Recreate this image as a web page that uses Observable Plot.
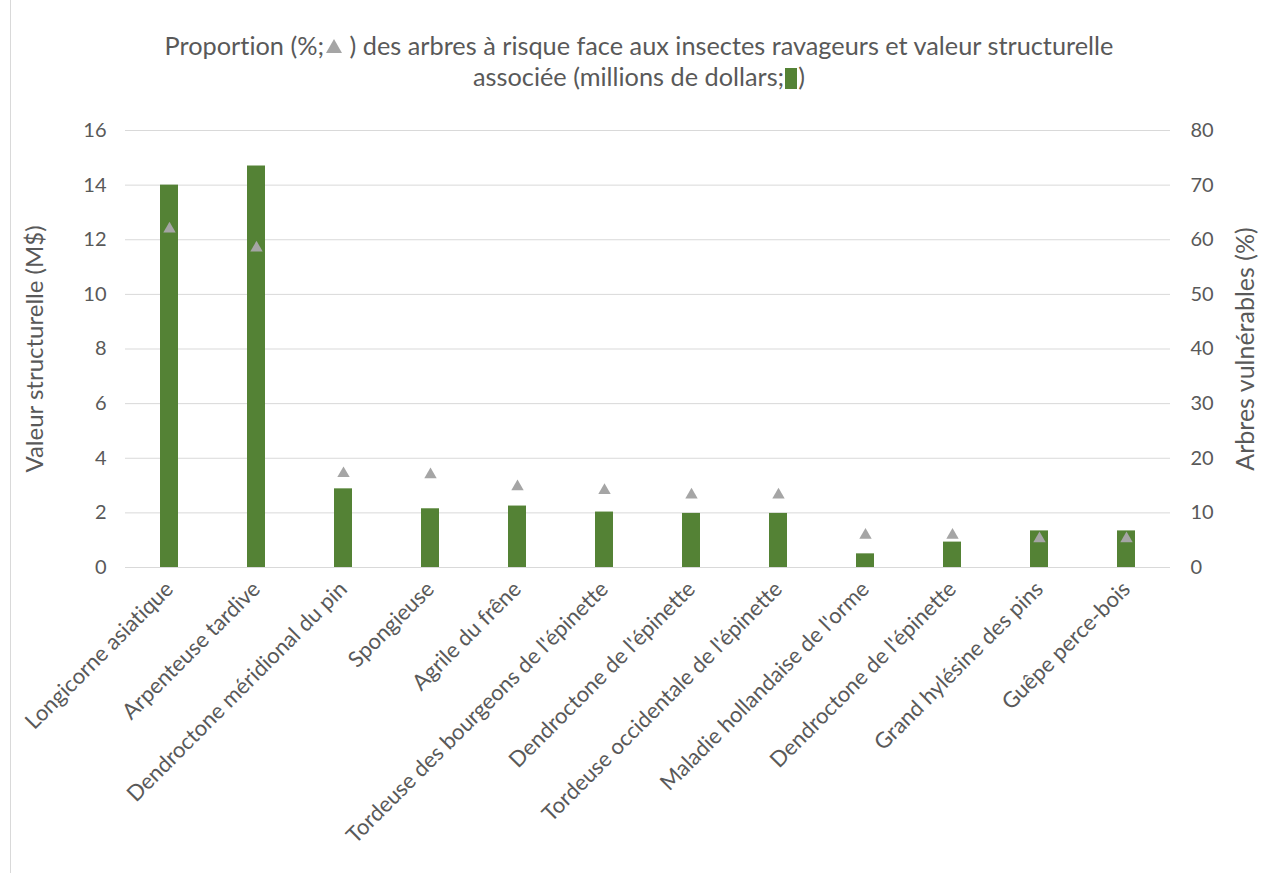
<!DOCTYPE html>
<html><head><meta charset="utf-8">
<script src="https://cdn.jsdelivr.net/npm/d3@7"></script>
<script src="https://cdn.jsdelivr.net/npm/@observablehq/plot@0.6"></script>
<style>
body{margin:0;background:#fff;font-family:Lato,"Open Sans",sans-serif;font-variant-ligatures:none;}
#frame{position:absolute;left:10px;top:-2px;width:1300px;height:900px;border:1px solid #d9d9d9;}
#title{position:absolute;left:0;top:30px;width:1278px;text-align:center;color:#595959;font-size:25.3px;line-height:31px;}
#title .tri{display:inline-block;width:0;height:0;border-left:8px solid transparent;border-right:8px solid transparent;border-bottom:14px solid #a5a5a5;vertical-align:2px;margin:0 1px 0 2px;}
#title .sq{display:inline-block;width:12px;height:21px;background:#548235;vertical-align:-3px;margin:0 1px;}
#chart{position:absolute;left:0;top:100px;}
svg text{font-variant-ligatures:none;}
</style></head><body>
<div id="frame"></div>
<div id="title">Proportion (%;<span class="tri"></span> ) des arbres à risque face aux insectes ravageurs et valeur structurelle<br>associée (millions de dollars;<span class="sq"></span>)</div>
<div id="chart"></div>
<script>
const categories = ["Longicorne asiatique","Arpenteuse tardive","Dendroctone méridional du pin","Spongieuse","Agrile du frêne","Tordeuse des bourgeons de l'épinette","Dendroctone de l'épinette","Tordeuse occidentale de l'épinette","Maladie hollandaise de l'orme","Dendroctone de l'épinette","Grand hylésine des pins","Guêpe perce-bois"];
const valeurs = [14.0, 14.7, 2.88, 2.15, 2.25, 2.03, 1.98, 1.98, 0.5, 0.93, 1.34, 1.34];
const proportions = [62, 58.5, 17.2, 17.0, 14.8, 14.1, 13.3, 13.3, 5.9, 5.9, 5.3, 5.3];
const leftTicks = [0,2,4,6,8,10,12,14,16];
const rightTicks = [0,10,20,30,40,50,60,70,80];
const leftLabel = "Valeur structurelle (M$)";
const rightLabel = "Arbres vulnérables (%)";

const rows = categories.map((c,i)=>({i, c, v: valeurs[i], p: proportions[i]}));
const ratio = 16/80;

const chart = Plot.plot({
  width: 1278,
  height: 773,
  marginTop: 30,
  marginLeft: 125,
  marginRight: 108,
  marginBottom: 306,
  style: {fontFamily: "Lato, 'Open Sans', sans-serif", fontSize: "20px", color: "#595959", background: "transparent"},
  x: {domain: d3.range(categories.length), paddingInner: 0.79, paddingOuter: 0.395, axis: null},
  y: {domain: [0,16], axis: null},
  marks: [
    Plot.ruleY(leftTicks, {stroke: "#d9d9d9", strokeWidth: 1}),
    Plot.barY(rows, {x: "i", y: "v", fill: "#548235"}),
    Plot.dot(rows, {x: "i", y: d => d.p * ratio, symbol: "triangle", r: 4.6, fill: "#a5a5a5", stroke: "none"}),
    Plot.axisY({anchor: "left", ticks: leftTicks, tickSize: 0, tickPadding: 19, label: null, fontSize: 20}),
    Plot.axisY({anchor: "right", ticks: rightTicks.map(d => d*ratio), tickFormat: d => Math.round(d/ratio), tickSize: 0, tickPadding: 20, label: null, fontSize: 20}),
    Plot.axisX({anchor: "bottom", tickFormat: i => categories[i], tickRotate: -45, tickSize: 0, tickPadding: 18, label: null, fontSize: 22}),
    Plot.text([leftLabel], {frameAnchor: "left", textAnchor: "middle", rotate: -90, dx: -90, fontSize: 24, fill: "#595959"}),
    Plot.text([rightLabel], {frameAnchor: "right", textAnchor: "middle", rotate: -90, dx: 75, fontSize: 25, fill: "#595959"})
  ]
});
document.getElementById("chart").appendChild(chart);
</script>
</body></html>
